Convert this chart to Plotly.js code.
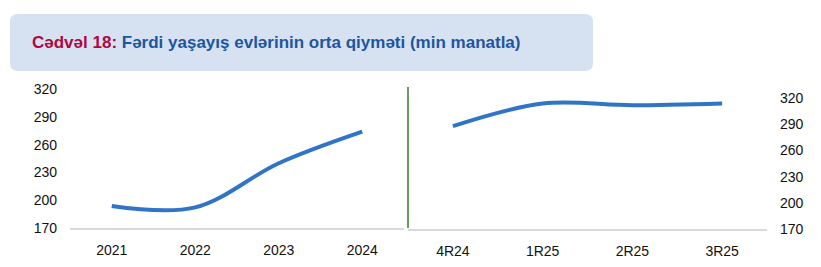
<!DOCTYPE html>
<html>
<head>
<meta charset="utf-8">
<script src="https://cdn.plot.ly/plotly-3.0.1.min.js"></script>
<style>
html,body{margin:0;padding:0;background:#fff;}
#chart{width:821px;height:267px;}
</style>
</head>
<body>
<div id="chart"></div>
<script>
// Annual data (left panel)
const yearCats = ["2021", "2022", "2023", "2024"];
const yearVals = [194, 192.5, 240, 274];
// Quarterly data (right panel)
const quarterCats = ["4R24", "1R25", "2R25", "3R25"];
const quarterVals = [288, 314, 312, 314];
const yTicks = [170, 200, 230, 260, 290, 320];
const titleLabel = "Cədvəl 18:";
const titleText = " Fərdi yaşayış evlərinin orta qiyməti (min manatla)";

const W = 821, H = 267;
const lineColor = "#2f74c7";
const tickFont = {family: "Liberation Sans, Arial, sans-serif", size: 14, color: "#111111"};

const traces = [
  {x: yearCats, y: yearVals, xaxis: "x", yaxis: "y", type: "scatter", mode: "lines",
   line: {color: lineColor, width: 4, shape: "spline", smoothing: 1}, hoverinfo: "skip"},
  {x: quarterCats, y: quarterVals, xaxis: "x2", yaxis: "y2", type: "scatter", mode: "lines",
   line: {color: lineColor, width: 4, shape: "spline", smoothing: 1}, hoverinfo: "skip"}
];

function px(x){return x / W;}
function py(y){return 1 - y / H;}

function roundedRect(x0, y0, x1, y1, r){
  const X = v => px(v), Y = v => py(v);
  return `M ${X(x0+r)} ${Y(y0)} L ${X(x1-r)} ${Y(y0)} Q ${X(x1)} ${Y(y0)} ${X(x1)} ${Y(y0+r)} ` +
         `L ${X(x1)} ${Y(y1-r)} Q ${X(x1)} ${Y(y1)} ${X(x1-r)} ${Y(y1)} ` +
         `L ${X(x0+r)} ${Y(y1)} Q ${X(x0)} ${Y(y1)} ${X(x0)} ${Y(y1-r)} ` +
         `L ${X(x0)} ${Y(y0+r)} Q ${X(x0)} ${Y(y0)} ${X(x0+r)} ${Y(y0)} Z`;
}

const layout = {
  width: W, height: H,
  margin: {l: 0, r: 0, t: 0, b: 0},
  paper_bgcolor: "#ffffff",
  plot_bgcolor: "rgba(0,0,0,0)",
  showlegend: false,
  xaxis: {
    domain: [px(70), px(404)], type: "category", range: [-0.5, 3.5],
    showgrid: false, zeroline: false, showline: true, linecolor: "#d9d9d9", linewidth: 2,
    ticks: "", tickfont: tickFont, automargin: false, ticklabelstandoff: 8, fixedrange: true
  },
  yaxis: {
    domain: [py(228.3), py(89)], range: [170, 320], tickvals: yTicks,
    showgrid: false, zeroline: false, showline: false, ticks: "",
    tickfont: tickFont, automargin: false, ticklabelstandoff: 12, fixedrange: true
  },
  xaxis2: {
    domain: [px(408), px(767)], type: "category", range: [-0.5, 3.5], anchor: "y2",
    showgrid: false, zeroline: false, showline: true, linecolor: "#d9d9d9", linewidth: 2,
    ticks: "", tickfont: tickFont, automargin: false, ticklabelstandoff: 8, fixedrange: true
  },
  yaxis2: {
    domain: [py(229), py(98.3)], range: [170, 320], tickvals: yTicks, anchor: "x2", side: "right",
    showgrid: false, zeroline: false, showline: false, ticks: "",
    tickfont: tickFont, automargin: false, ticklabelstandoff: 12, fixedrange: true
  },
  shapes: [
    {type: "path", xref: "paper", yref: "paper", path: roundedRect(10, 14, 593, 71, 8),
     fillcolor: "#d6e2f2", line: {width: 0}, layer: "below"},
    {type: "line", xref: "paper", yref: "paper", x0: px(408), x1: px(408), y0: py(228), y1: py(87),
     line: {color: "#6a9a63", width: 2}}
  ],
  annotations: [
    {xref: "paper", yref: "paper", x: px(30), y: py(43), xanchor: "left", yanchor: "middle",
     showarrow: false,
     text: `<b><span style="color:#b0073f">${titleLabel}</span><span style="color:#1d56a0">${titleText}</span></b>`,
     font: {family: "Liberation Sans, Arial, sans-serif", size: 17}}
  ]
};

Plotly.newPlot("chart", traces, layout, {displayModeBar: false, staticPlot: true});
</script>
</body>
</html>
